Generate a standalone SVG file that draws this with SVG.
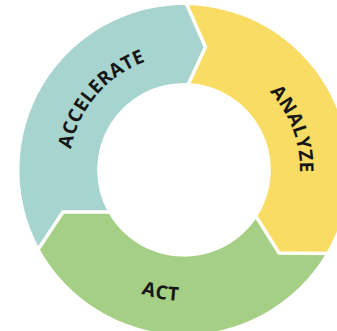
<svg xmlns="http://www.w3.org/2000/svg" width="337" height="331" viewBox="0 0 337 331">
  <style>
    .lbl { font-family: "Open Sans", "Liberation Sans", sans-serif; font-weight: 700; fill: #161616; }
    .sep { fill: none; stroke: #ffffff; stroke-width: 3.5; stroke-linejoin: miter; stroke-linecap: square; }
  </style>
  <defs>
    <path id="pAcc" d="M 83.9 226.6 A 115 115 0 0 1 224.3 62.3"/>
    <path id="pAna" d="M 183 54 A 116 116 0 0 1 259.3 258.2"/>
    <path id="pAct" d="M 54.8 191.4 A 131 131 0 0 0 296.7 236.7"/>
  </defs>
  <rect width="337" height="331" fill="#ffffff"/>
  <g id="accelerate">
    <path fill="#A7D4CF" d="M 39 248 A 165 165 0 0 1 186 5 L 205.5 47 L 188 83 A 87 87 0 0 0 108 212 L 63 212 Z"/>
    <text class="lbl" font-size="19" letter-spacing="0.4"><textPath href="#pAcc" startOffset="50%" text-anchor="middle">ACCELERATE</textPath></text>
  </g>
  <g id="analyze">
    <path fill="#F9DC63" d="M 186 5 A 165 165 0 0 1 326 253.5 L 279 253 L 257 217 A 87 87 0 0 0 188 83 L 205.5 47 Z"/>
    <text class="lbl" font-size="19" letter-spacing="0.4"><textPath href="#pAna" startOffset="50%" text-anchor="middle">ANALYZE</textPath></text>
  </g>
  <g id="act">
    <path fill="#A5CF84" d="M 326 253.5 A 165 165 0 0 1 39 248 L 63 212 L 108 212 A 87 87 0 0 0 257 217 L 279 253 Z"/>
    <text class="lbl" font-size="19" letter-spacing="1"><textPath href="#pAct" startOffset="50%" text-anchor="middle">ACT</textPath></text>
  </g>
  <g id="separators">
    <polyline class="sep" points="186,3 205.5,47 188,85"/>
    <polyline class="sep" points="255.5,215.5 279,253 328,253.5"/>
    <polyline class="sep" points="37,251 63,212 110,212"/>
  </g>
</svg>
